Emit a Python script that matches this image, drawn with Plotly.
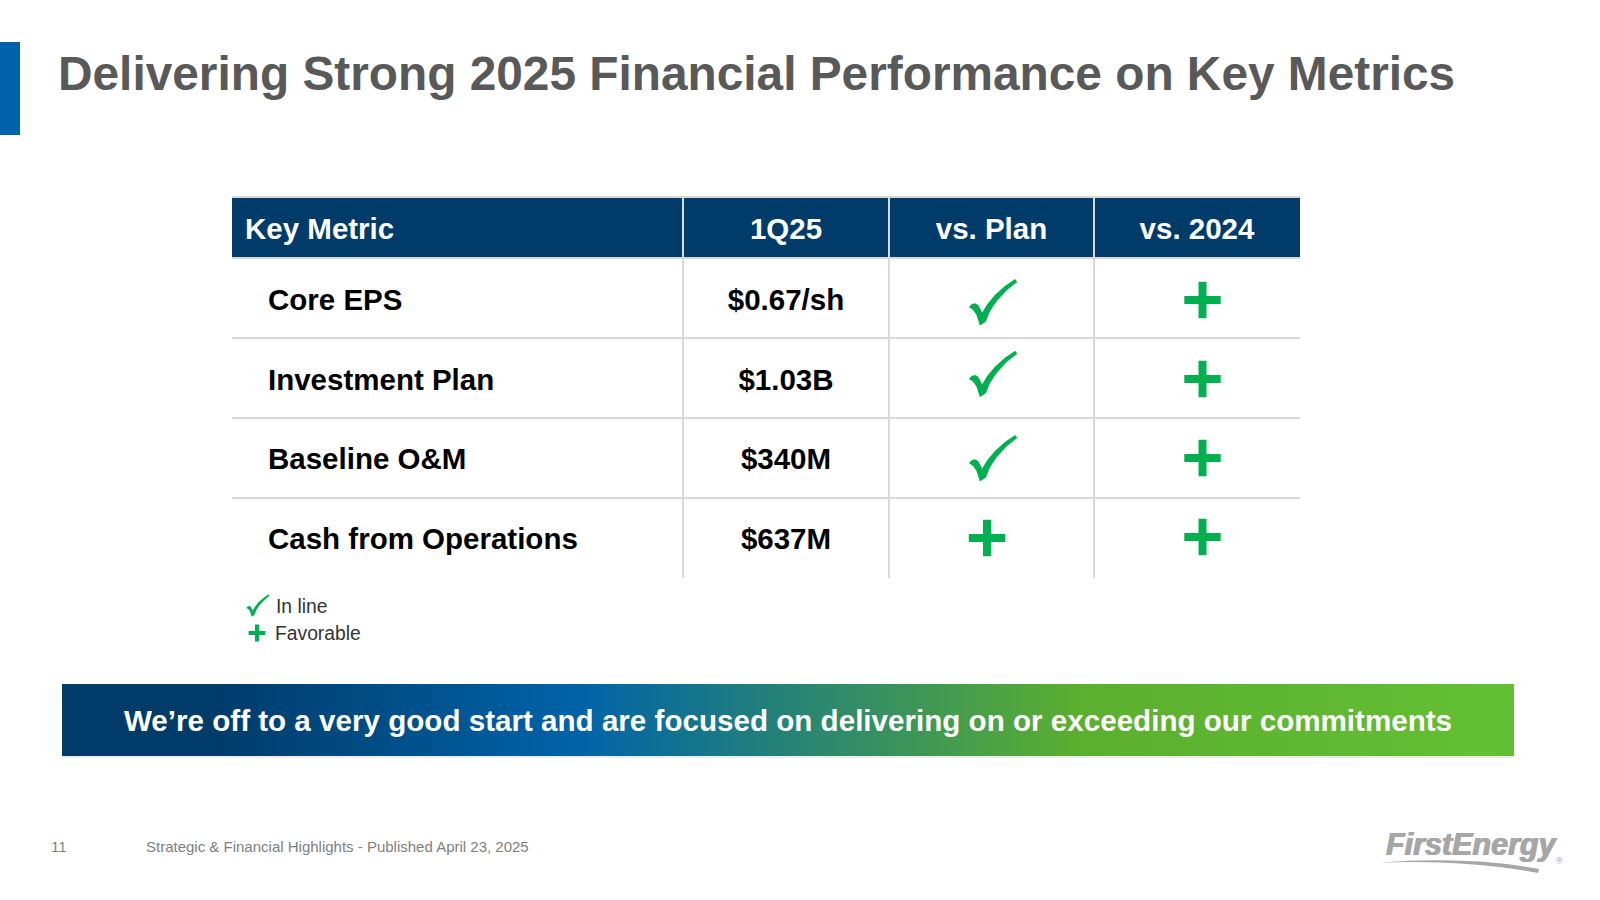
# -*- coding: utf-8 -*-
import plotly.graph_objects as go

# slide text / table content
title_text = "Delivering Strong 2025 Financial Performance on Key Metrics"
headers = ["Key Metric", "1Q25", "vs. Plan", "vs. 2024"]
metrics = ["Core EPS", "Investment Plan", "Baseline O&M", "Cash from Operations"]
q1_values = ["$0.67/sh", "$1.03B", "$340M", "$637M"]
vs_plan = ["check", "check", "check", "plus"]
vs_2024 = ["plus", "plus", "plus", "plus"]
legend_labels = ["In line", "Favorable"]
banner_text = "We’re off to a very good start and are focused on delivering on or exceeding our commitments"
page_number = "11"
footer_text = "Strategic & Financial Highlights - Published April 23, 2025"

# slide geometry in pixels
col_edges = [232, 683, 889, 1094, 1300]
row_edges = [197, 258, 338, 418, 498, 578]
row_text_y = [302.5, 383, 461.5, 542]
plus_y_rows = [300, 379, 458, 537]
check_y_rows = [302.3, 374, 458.3, 537]
FONT = "Liberation Sans"
GREEN = "#00B050"
GRID = "#D9D9D9"
NAVY = "#003B69"

# check glyph outline, relative to its centre, for a mark 48 px wide
CHECK = [(-24.3, 5), (-21.7, 2), (-18.3, 1), (-15, 2.7), (-11, 10.3), (-6, 2), (1.7, -7.3), (11.7, -16.3), (22, -23.3),
         (24, -20.3), (13.3, -11.7), (3.3, -0.7), (-3.3, 9.3), (-7.3, 19.3), (-13.3, 23.3), (-16.7, 12.7), (-20, 7.7)]


def check_path(cx, cy, scale=1.0):
    pts = [f"{cx + px * scale:.1f},{cy + py * scale:.1f}" for px, py in CHECK]
    return "M" + " L".join(pts) + " Z"


fig = go.Figure()
shapes = []

# left accent block on the title
shapes.append(dict(type="rect", x0=0, x1=20, y0=42, y1=135, fillcolor="#0063A9", line_width=0, layer="below"))

# table header + grid
shapes.append(dict(type="rect", x0=col_edges[0], x1=col_edges[-1], y0=row_edges[0], y1=row_edges[1],
                   fillcolor=NAVY, line_width=0, layer="below"))
for y in row_edges[:-1]:
    shapes.append(dict(type="line", x0=col_edges[0], x1=col_edges[-1], y0=y, y1=y,
                       line=dict(color=GRID, width=2), layer="below"))
for x in col_edges[1:-1]:
    shapes.append(dict(type="line", x0=x, x1=x, y0=row_edges[0], y1=row_edges[-1],
                       line=dict(color=GRID, width=2), layer="below"))

# header row
fig.add_trace(go.Scatter(x=[col_edges[0] + 13], y=[231.5], mode="text", text=headers[:1], textposition="middle right",
                         textfont=dict(family=FONT, size=29.5, color="white", weight=700)))
fig.add_trace(go.Scatter(x=[(col_edges[i] + col_edges[i + 1]) / 2 for i in range(1, 4)], y=[231.5] * 3, mode="text",
                         text=headers[1:], textposition="middle center",
                         textfont=dict(family=FONT, size=29.5, color="white", weight=700)))

# metric names and values
fig.add_trace(go.Scatter(x=[268] * len(metrics), y=row_text_y, mode="text", text=metrics, textposition="middle right",
                         textfont=dict(family=FONT, size=29.5, color="black", weight=700)))
fig.add_trace(go.Scatter(x=[786] * len(q1_values), y=row_text_y, mode="text", text=q1_values,
                         textposition="middle center",
                         textfont=dict(family=FONT, size=29.5, color="black", weight=700)))

# status marks: plus signs are markers, checks are outline shapes
plus_x, plus_y = [], []
for i, status in enumerate(vs_plan):
    if status == "plus":
        plus_x.append(987)
        plus_y.append(plus_y_rows[i] + 1)
    else:
        shapes.append(dict(type="path", path=check_path(993.2, check_y_rows[i]), fillcolor=GREEN, line_width=0))
for i, status in enumerate(vs_2024):
    if status == "plus":
        plus_x.append(1202.5)
        plus_y.append(plus_y_rows[i])
fig.add_trace(go.Scatter(x=plus_x, y=plus_y, mode="markers",
                         marker=dict(symbol="cross-thin", size=26, line=dict(color=GREEN, width=8))))

# legend
shapes.append(dict(type="path", path=check_path(258, 605.5, 0.48), fillcolor=GREEN, line_width=0))
fig.add_trace(go.Scatter(x=[257], y=[633], mode="markers",
                         marker=dict(symbol="cross-thin", size=12, line=dict(color=GREEN, width=4))))
fig.add_trace(go.Scatter(x=[276, 275], y=[608, 635], mode="text", text=legend_labels, textposition="middle right",
                         textfont=dict(family=FONT, size=19.3, color="#333333")))

# banner with the gradient fill
shapes.append(dict(type="line", x0=62, x1=1514, y0=757, y1=757, line=dict(color="#EDEDED", width=2), layer="below"))
fig.add_trace(go.Scatter(x=[62, 1514, 1514, 62, 62], y=[684, 684, 756, 756, 684], mode="lines", fill="toself",
                         line=dict(width=0),
                         fillgradient=dict(type="horizontal",
                                           colorscale=[[0, "#003B69"], [0.1, "#003B69"], [0.357, "#0063A9"],
                                                       [0.7, "#5BAF2F"], [1, "#63C033"]])))
fig.add_trace(go.Scatter(x=[788], y=[724], mode="text", text=[banner_text], textposition="middle center",
                         textfont=dict(family=FONT, size=29.6, color="white", weight=700)))

# footer
fig.add_trace(go.Scatter(x=[51, 146], y=[848, 848], mode="text", text=[page_number, footer_text],
                         textposition="middle right", textfont=dict(family=FONT, size=15, color="#808080")))

# logo
fig.add_trace(go.Scatter(x=[1386], y=[847], mode="text", text=["FirstEnergy"], textposition="middle right",
                         textfont=dict(family=FONT, size=30.5, color="#A6A6A6", weight=700, style="italic",
                                       shadow="0.6px 0 0 #A6A6A6, -0.6px 0 0 #A6A6A6")))
fig.add_trace(go.Scatter(x=[1556], y=[862], mode="text", text=["®"], textposition="middle right",
                         textfont=dict(family=FONT, size=9, color="#A6A6A6")))
shapes.append(dict(type="path", path="M1380,862.5 Q1470,856 1539,869 L1538,873 Q1470,860 1380,862.5 Z",
                   fillcolor="#A6A6A6", line_width=0))

fig.update_layout(
    width=1600,
    height=900,
    margin=dict(l=0, r=0, t=0, b=0),
    paper_bgcolor="white",
    plot_bgcolor="white",
    showlegend=False,
    hovermode=False,
    shapes=shapes,
    title=dict(text=title_text, x=58 / 1600, xanchor="left", y=1 - 73 / 900, yanchor="middle",
               font=dict(family=FONT, size=47.8, color="#595959", weight=700)),
    xaxis=dict(range=[0, 1600], visible=False, fixedrange=True),
    yaxis=dict(range=[900, 0], visible=False, fixedrange=True),
)

# the page has a default body margin, drop it so the slide fills the window
fig.write_html("out.html", config={"displayModeBar": False}, post_script="document.body.style.margin='0';")
